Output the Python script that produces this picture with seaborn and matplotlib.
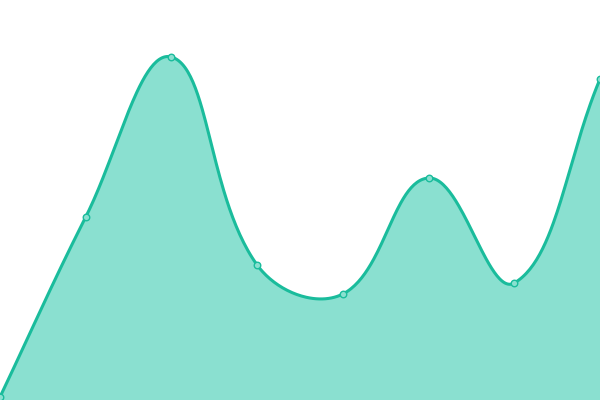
import numpy as np
import pandas as pd
import matplotlib
matplotlib.use("Agg")
import matplotlib.pyplot as plt
import seaborn as sns

# data (height above the bottom edge, 0..400 scale)
steps = [0, 1, 2, 3, 4, 5, 6, 7]
values = [3, 183, 343, 135, 106, 222, 117, 321]

LINE = "#1abc9c"
FILL = "#8ae0d0"
TENSION = 0.4

W, H = 600, 400
XMAX, YMAX = 7, 400


def spline_controls(px, py, t):
    # Chart.js style control points, computed in pixel space
    n = len(px)
    cps = []
    for i in range(n):
        prev = (px[max(i - 1, 0)], py[max(i - 1, 0)])
        cur = (px[i], py[i])
        nxt = (px[min(i + 1, n - 1)], py[min(i + 1, n - 1)])
        d01 = np.hypot(cur[0] - prev[0], cur[1] - prev[1])
        d12 = np.hypot(nxt[0] - cur[0], nxt[1] - cur[1])
        tot = d01 + d12
        s01 = d01 / tot if tot else 0
        s12 = d12 / tot if tot else 0
        fa, fb = t * s01, t * s12
        before = (cur[0] - fa * (nxt[0] - prev[0]), cur[1] - fa * (nxt[1] - prev[1]))
        after = (cur[0] + fb * (nxt[0] - prev[0]), cur[1] + fb * (nxt[1] - prev[1]))
        cps.append((before, after))
    return cps


px = np.array(steps) * W / XMAX
py = np.array(values, dtype=float)
cps = spline_controls(px, py, TENSION)

xs, ys = [], []
u = np.linspace(0, 1, 60)
for i in range(len(px) - 1):
    p0 = np.array([px[i], py[i]])
    p1 = np.array(cps[i][1])
    p2 = np.array(cps[i + 1][0])
    p3 = np.array([px[i + 1], py[i + 1]])
    seg = ((1 - u) ** 3)[:, None] * p0 + (3 * (1 - u) ** 2 * u)[:, None] * p1 \
        + (3 * (1 - u) * u ** 2)[:, None] * p2 + (u ** 3)[:, None] * p3
    xs.extend(seg[:, 0] * XMAX / W)
    ys.extend(seg[:, 1])

curve = pd.DataFrame({"x": xs, "y": ys})
points = pd.DataFrame({"x": steps, "y": values})

sns.set_style("white")
fig = plt.figure(figsize=(6, 4), dpi=100)
ax = fig.add_axes([0, 0, 1, 1])

ax.fill_between(curve["x"], curve["y"], 0, color=FILL, lw=0)
sns.lineplot(data=curve, x="x", y="y", ax=ax, color=LINE, lw=2.2, sort=False)
sns.scatterplot(data=points, x="x", y="y", ax=ax, s=22, color=FILL,
                edgecolor=LINE, linewidth=1, zorder=5, clip_on=True)

ax.set_xlim(0, XMAX)
ax.set_ylim(0, YMAX)
ax.axis("off")

fig.savefig("out.png", dpi=100)
